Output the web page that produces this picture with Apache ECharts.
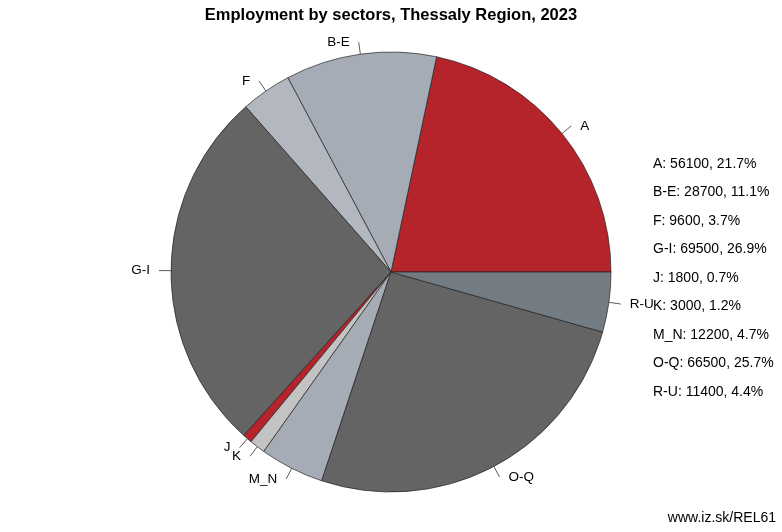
<!DOCTYPE html>
<html>
<head>
<meta charset="utf-8">
<script src="https://cdn.jsdelivr.net/npm/echarts@6/dist/echarts.min.js"></script>
<style>
  html, body { margin: 0; padding: 0; background: #fff; }
  #chart { width: 782px; height: 532px; }
</style>
</head>
<body>
<div id="chart"></div>
<script>
const sectors = ['A', 'B-E', 'F', 'G-I', 'J', 'K', 'M_N', 'O-Q', 'R-U']
const employment = [56100, 28700, 9600, 69500, 1800, 3000, 12200, 66500, 11400]
const palette = ['#b5232b', '#a5acb5', '#b3b8c0', '#646464', '#b5232b', '#c3c3c3', '#a5acb5', '#646464', '#737b83']

const total = employment.reduce((s, v) => s + v, 0)
const pct = v => (v / total * 100).toFixed(1)

const chart = echarts.init(document.getElementById('chart'), null, { renderer: 'canvas' })
const font = 'Liberation Sans, Arial, sans-serif'

chart.setOption({
  animation: false,
  textStyle: { fontFamily: font },
  title: {
    text: 'Employment by sectors, Thessaly Region, 2023',
    left: 386,
    top: 2,
    textAlign: 'center',
    textStyle: { fontSize: 16.5, fontWeight: 'bold', color: '#000', fontFamily: font }
  },
  legend: {
    orient: 'vertical',
    left: 642,
    top: 151,
    itemWidth: 0,
    itemHeight: 0,
    itemGap: 12.5,
    icon: 'rect',
    selectedMode: false,
    textStyle: { fontSize: 14, color: '#000', fontFamily: font, lineHeight: 16 },
    formatter: name => {
      const v = employment[sectors.indexOf(name)]
      return name + ': ' + v + ', ' + pct(v) + '%'
    },
    data: sectors
  },
  graphic: [{
    type: 'text',
    right: 6,
    bottom: 7,
    style: { text: 'www.iz.sk/REL61', fontSize: 14, fill: '#000', fontFamily: font }
  }],
  series: [{
    type: 'pie',
    center: [391, 272],
    radius: [0, 220],
    startAngle: 0,
    clockwise: false,
    avoidLabelOverlap: false,
    itemStyle: { borderColor: '#222', borderWidth: 0.7 },
    emphasis: { disabled: true },
    label: {
      show: true,
      position: 'outside',
      color: '#000',
      fontSize: 13.5,
      fontFamily: font,
      formatter: '{b}',
      distanceToLabelLine: 9
    },
    labelLine: {
      show: true,
      length: 12,
      length2: 0,
      lineStyle: { color: '#333', width: 0.8 }
    },
    data: sectors.map((s, i) => ({
      name: s,
      value: employment[i],
      itemStyle: { color: palette[i] }
    }))
  }]
})
</script>
</body>
</html>
